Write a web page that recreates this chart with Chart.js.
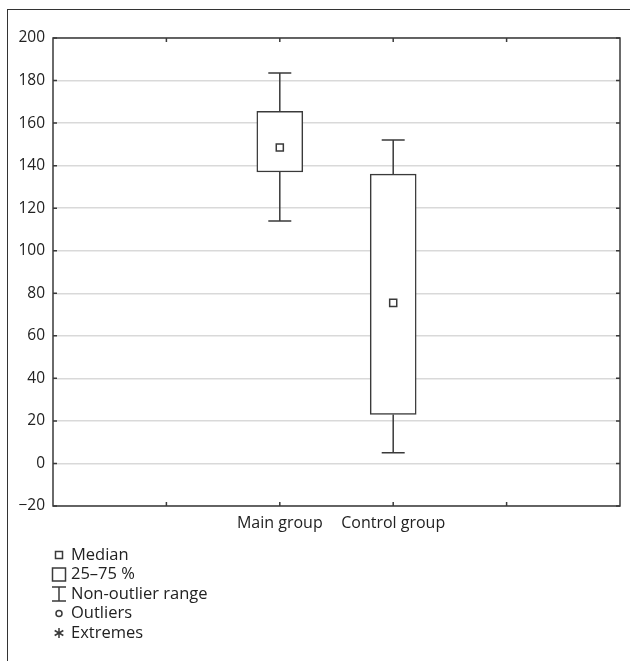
<!DOCTYPE html>
<html>
<head>
<meta charset="utf-8">
<script src="https://cdn.jsdelivr.net/npm/chart.js@4.4.1/dist/chart.umd.min.js"></script>
<style>
  html, body { margin: 0; padding: 0; background: #fff; }
  #wrap { position: relative; width: 630px; height: 661px; overflow: hidden; }
  #frame { position: absolute; left: 7px; top: 9px; width: 700px; height: 700px;
           border-left: 1.5px solid #333; border-top: 1.5px solid #333; }
  canvas { position: absolute; left: 0; top: 0; }
</style>
</head>
<body>
<div id="wrap">
  <div id="frame"></div>
  <canvas id="chart" width="630" height="661"></canvas>
</div>
<script>
// Datos
const groups = ["Main group", "Control group"];
const groupPos = [2, 3];            // posición en el eje x (0..5)
const whiskerLow = [114, 5];
const q1 = [137, 23];
const median = [148.5, 75.5];
const q3 = [165.5, 136];
const whiskerHigh = [183.5, 152];
const legendLabels = ["Median", "25\u201375 %", "Non-outlier range", "Outliers", "Extremes"];

const INK = "#3a3a3a";
const FONT = '"Open Sans", "DejaVu Sans", sans-serif';

// Bigotes, marco del área, marcas interiores y leyenda
const boxPlotExtras = {
  id: "boxPlotExtras",
  afterDatasetsDraw(chart) {
    const { ctx, scales: { x, y } } = chart;
    ctx.save();
    ctx.strokeStyle = INK;
    ctx.lineWidth = 1.5;
    const capHalf = 11.5;
    groupPos.forEach((pos, i) => {
      const px = x.getPixelForValue(pos);
      const segs = [
        [y.getPixelForValue(q3[i]), y.getPixelForValue(whiskerHigh[i])],
        [y.getPixelForValue(q1[i]), y.getPixelForValue(whiskerLow[i])]
      ];
      for (const [a, b] of segs) {
        ctx.beginPath();
        ctx.moveTo(px, a); ctx.lineTo(px, b);
        ctx.moveTo(px - capHalf, b); ctx.lineTo(px + capHalf, b);
        ctx.stroke();
      }
    });
    ctx.restore();
  },
  afterDraw(chart) {
    const { ctx, chartArea: a, scales: { x, y } } = chart;
    ctx.save();
    ctx.strokeStyle = INK;
    ctx.lineWidth = 1.5;
    ctx.strokeRect(a.left, a.top, a.right - a.left, a.bottom - a.top);
    // marcas hacia dentro
    const t = 4;
    ctx.beginPath();
    for (let v = -20; v <= 200; v += 20) {
      const py = y.getPixelForValue(v);
      ctx.moveTo(a.left, py); ctx.lineTo(a.left + t, py);
      ctx.moveTo(a.right, py); ctx.lineTo(a.right - t, py);
    }
    for (let v = 1; v <= 4; v++) {
      const px = x.getPixelForValue(v);
      ctx.moveTo(px, a.top); ctx.lineTo(px, a.top + t);
      ctx.moveTo(px, a.bottom); ctx.lineTo(px, a.bottom - t);
    }
    ctx.stroke();

    // leyenda
    ctx.font = "16.5px " + FONT;
    ctx.fillStyle = "#222";
    ctx.textBaseline = "middle";
    const ix = a.left + 6;
    legendLabels.forEach((lab, i) => {
      const ly = a.bottom + 49 + i * 19.5;
      ctx.beginPath();
      if (i === 0) {
        ctx.rect(ix - 3.5, ly - 3.5, 7, 7);
      } else if (i === 1) {
        ctx.rect(ix - 6.5, ly - 6.5, 13, 13);
      } else if (i === 2) {
        ctx.moveTo(ix - 7, ly - 7); ctx.lineTo(ix + 7, ly - 7);
        ctx.moveTo(ix - 7, ly + 7); ctx.lineTo(ix + 7, ly + 7);
        ctx.moveTo(ix, ly - 7); ctx.lineTo(ix, ly + 7);
      } else if (i === 3) {
        ctx.arc(ix, ly, 3, 0, Math.PI * 2);
      } else {
        for (let k = 0; k < 3; k++) {
          const ang = Math.PI / 2 + k * Math.PI / 3;
          ctx.moveTo(ix - 5 * Math.cos(ang), ly - 5 * Math.sin(ang));
          ctx.lineTo(ix + 5 * Math.cos(ang), ly + 5 * Math.sin(ang));
        }
      }
      ctx.stroke();
      ctx.fillText(lab, a.left + 18, ly);
    });
    ctx.restore();
  }
};

new Chart(document.getElementById("chart"), {
  type: "bar",
  data: {
    datasets: [
      {
        type: "bar",
        order: 2,
        data: groupPos.map((p, i) => ({ x: p, y: [q1[i], q3[i]] })),
        backgroundColor: "#fff",
        borderColor: INK,
        borderWidth: 1.5,
        borderSkipped: false,
        barThickness: 46,
        grouped: false
      },
      {
        type: "scatter",
        order: 1,
        data: groupPos.map((p, i) => ({ x: p, y: median[i] })),
        pointStyle: "rect",
        pointRadius: 5,
        pointBackgroundColor: "#fff",
        pointBorderColor: INK,
        pointBorderWidth: 1.5
      }
    ]
  },
  options: {
    responsive: false,
    animation: false,
    layout: { padding: { left: 0, right: 10, top: 38, bottom: 125 } },
    plugins: { legend: { display: false }, tooltip: { enabled: false } },
    scales: {
      x: {
        type: "linear", min: 0, max: 5, offset: false,
        grid: { display: false, drawTicks: false },
        border: { display: false },
        ticks: {
          stepSize: 1, autoSkip: false, maxRotation: 0, padding: 8,
          color: "#222", font: { family: FONT, size: 16 },
          callback: v => { const i = groupPos.indexOf(v); return i >= 0 ? groups[i] : ""; }
        },
        afterFit: s => { s.height = 30; }
      },
      y: {
        min: -20, max: 200,
        grid: { color: "#d9d9d9", lineWidth: 1.5, drawTicks: false },
        border: { display: false },
        ticks: {
          stepSize: 20, padding: 8, color: "#222", font: { family: FONT, size: 15.5 },
          callback: v => v < 0 ? "\u2212" + Math.abs(v) : String(v)
        },
        afterFit: s => { s.width = 53; }
      }
    }
  },
  plugins: [boxPlotExtras]
});
</script>
</body>
</html>
